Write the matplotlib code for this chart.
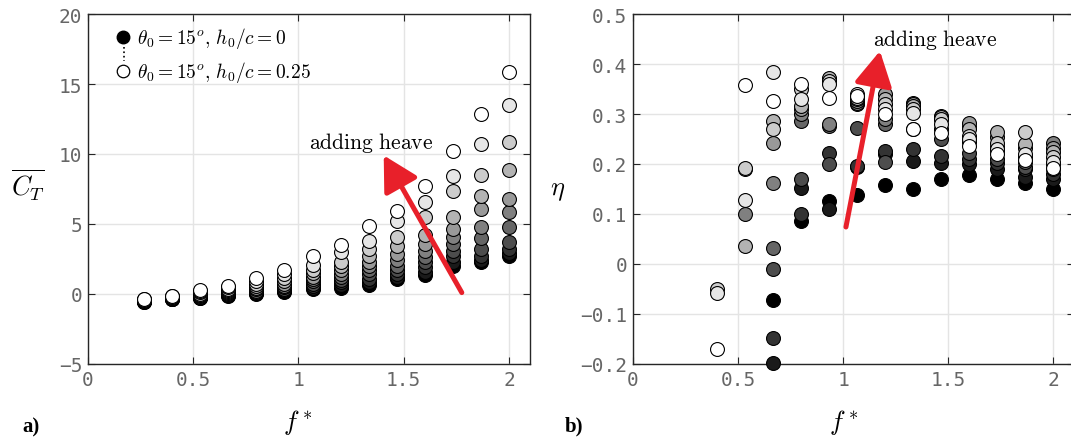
import numpy as np
import matplotlib.pyplot as plt

plt.rcParams['mathtext.fontset'] = 'cm'

# reduced frequency, one column of markers per value
f_star = [0.267, 0.4, 0.533, 0.667, 0.8, 0.933, 1.067, 1.2, 1.333, 1.467, 1.6, 1.733, 1.867, 2.0]
# heave amplitude h0/c, black (0) -> white (0.25)
h0c = [0.0, 0.025, 0.05, 0.075, 0.1, 0.125, 0.15, 0.175, 0.2, 0.225, 0.25]

# mean thrust coefficient, one row per f*, one column per h0/c
ct_mean = [
    [-0.55, -0.54, -0.53, -0.52, -0.50, -0.48, -0.46, -0.44, -0.42, -0.39, -0.36],
    [-0.36, -0.35, -0.34, -0.33, -0.31, -0.29, -0.27, -0.24, -0.21, -0.17, -0.12],
    [-0.29, -0.27, -0.24, -0.20, -0.16, -0.10, -0.04, 0.03, 0.11, 0.20, 0.31],
    [-0.12, -0.09, -0.05, 0.00, 0.06, 0.13, 0.20, 0.28, 0.37, 0.48, 0.60],
    [0.00, 0.04, 0.10, 0.17, 0.25, 0.34, 0.45, 0.57, 0.72, 0.90, 1.12],
    [0.12, 0.18, 0.26, 0.36, 0.47, 0.60, 0.75, 0.92, 1.12, 1.40, 1.74],
    [0.35, 0.45, 0.55, 0.70, 0.90, 1.05, 1.25, 1.50, 1.75, 2.10, 2.74],
    [0.45, 0.65, 0.85, 1.00, 1.20, 1.45, 1.70, 2.00, 2.30, 3.00, 3.52],
    [0.65, 0.85, 1.10, 1.40, 1.74, 2.00, 2.30, 2.69, 3.21, 3.81, 4.83],
    [1.05, 1.25, 1.45, 1.70, 2.00, 2.40, 2.86, 3.45, 4.05, 5.24, 5.90],
    [1.36, 1.60, 1.90, 2.26, 2.62, 3.10, 3.57, 4.21, 5.52, 6.55, 7.74],
    [1.98, 2.31, 2.69, 3.10, 3.57, 4.05, 4.64, 5.48, 7.38, 8.45, 10.24],
    [2.26, 2.45, 2.69, 3.21, 3.98, 4.76, 6.07, 7.02, 8.50, 10.71, 12.86],
    [2.71, 2.93, 3.21, 3.71, 4.79, 5.86, 6.79, 8.86, 10.86, 13.50, 15.86],
]

nan = np.nan
# propulsive efficiency (nan = below the plotted range)
eta = [
    [nan] * 11,
    [nan, nan, nan, nan, nan, nan, nan, nan, -0.050, -0.058, -0.170],
    [nan, nan, nan, nan, nan, 0.100, 0.190, 0.037, 0.193, 0.128, 0.359],
    [-0.072, -0.197, -0.147, -0.009, 0.033, 0.163, 0.243, 0.287, 0.270, 0.385, 0.327],
    [0.087, 0.153, 0.100, 0.170, 0.287, 0.300, 0.310, 0.317, 0.350, 0.330, 0.360],
    [0.127, 0.110, 0.223, 0.200, 0.277, 0.280, 0.370, 0.373, 0.367, 0.360, 0.333],
    [0.138, 0.195, 0.197, 0.273, 0.320, 0.322, 0.327, 0.330, 0.333, 0.340, 0.337],
    [0.158, 0.220, 0.227, 0.205, 0.280, 0.290, 0.340, 0.330, 0.320, 0.310, 0.300],
    [0.150, 0.207, 0.230, 0.270, 0.315, 0.323, 0.320, 0.317, 0.310, 0.303, 0.271],
    [0.170, 0.203, 0.217, 0.250, 0.270, 0.290, 0.297, 0.295, 0.290, 0.280, 0.263],
    [0.178, 0.200, 0.210, 0.223, 0.245, 0.275, 0.283, 0.270, 0.257, 0.250, 0.237],
    [0.171, 0.190, 0.203, 0.210, 0.225, 0.235, 0.255, 0.265, 0.243, 0.230, 0.220],
    [0.163, 0.175, 0.190, 0.195, 0.205, 0.215, 0.232, 0.240, 0.265, 0.220, 0.209],
    [0.150, 0.170, 0.180, 0.190, 0.200, 0.243, 0.232, 0.225, 0.215, 0.205, 0.193],
]

x_ticks = [0, 0.5, 1, 1.5, 2]
x_ticklabels = ['0', '0.5', '1', '1.5', '2']
ct_ticks = [-5, 0, 5, 10, 15, 20]
ct_ticklabels = ['\u22125', '0', '5', '10', '15', '20']
eta_ticks = [-0.2, -0.1, 0, 0.1, 0.2, 0.3, 0.4, 0.5]
eta_ticklabels = ['\u22120.2', '\u22120.1', '0', '0.1', '0.2', '0.3', '0.4', '0.5']

RED = '#e8202a'
W, H = 1071, 439

fig = plt.figure(figsize=(W / 100, H / 100), dpi=100)
ax1 = fig.add_axes([88 / W, 74 / H, 442 / W, 350 / H])
ax2 = fig.add_axes([633 / W, 74 / H, 441 / W, 350 / H])


def style_axes(ax, ylim, yticks, yticklabels):
    ax.set_xlim(0, 2.1)
    ax.set_ylim(*ylim)
    ax.set_xticks(x_ticks)
    ax.set_xticklabels(x_ticklabels)
    ax.set_yticks(yticks)
    ax.set_yticklabels(yticklabels)
    ax.grid(True, color='#e4e4e4', lw=1)
    ax.set_axisbelow(True)
    ax.tick_params(direction='in', length=5, width=0.8, color='0.15',
                   labelcolor='0.4', labelsize=14, pad=4, top=True, right=True)
    for lab in ax.get_xticklabels() + ax.get_yticklabels():
        lab.set_fontfamily('DejaVu Sans Mono')
    for sp in ax.spines.values():
        sp.set_color('0.15')
        sp.set_linewidth(1)


def draw_series(ax, values):
    values = np.array(values, dtype=float)
    for i, h in enumerate(h0c):
        g = h / h0c[-1]
        ax.scatter(f_star, values[:, i], s=100, color=(g, g, g),
                   edgecolors='k', linewidths=0.8, zorder=3, clip_on=False)


style_axes(ax1, (-5, 20), ct_ticks, ct_ticklabels)
style_axes(ax2, (-0.2, 0.5), eta_ticks, eta_ticklabels)
draw_series(ax1, ct_mean)
draw_series(ax2, eta)

# legend: black -> dots -> white
ax1.plot([0.08], [0.934], 'o', ms=9, mfc='k', mec='k', transform=ax1.transAxes, zorder=5)
ax1.plot([0.08], [0.837], 'o', ms=9, mfc='w', mec='k', mew=0.9, transform=ax1.transAxes, zorder=5)
ax1.plot([0.081, 0.081], [0.905, 0.865], ls=':', color='k', lw=1.2, transform=ax1.transAxes)
ax1.text(0.11, 0.934, r'$\theta_0 = 15^o,\, h_0/c = 0$', transform=ax1.transAxes,
         fontsize=14, va='center', ha='left')
ax1.text(0.11, 0.837, r'$\theta_0 = 15^o,\, h_0/c = 0.25$', transform=ax1.transAxes,
         fontsize=14, va='center', ha='left')

# arrows
arrow = dict(arrowstyle='-|>,head_length=1.0,head_width=0.55', color=RED, lw=3.6,
             mutation_scale=21, shrinkA=0, shrinkB=0)
ax1.annotate('', xy=(1.405, 9.9), xytext=(1.776, 0.1), arrowprops=arrow, zorder=6)
ax1.text(1.343, 10.86, r'$\mathrm{adding\ heave}$', fontsize=15.5, ha='center', va='center')
ax2.annotate('', xy=(1.176, 0.426), xytext=(1.014, 0.074), arrowprops=arrow, zorder=6)
ax2.text(1.438, 0.45, r'$\mathrm{adding\ heave}$', fontsize=15.5, ha='center', va='center')

# axis labels and panel tags
fig.text(28 / W, 1 - 185 / H, r'$\overline{C_T}$', fontsize=19, ha='center', va='center')
fig.text(558 / W, 1 - 190 / H, r'$\eta$', fontsize=19, ha='center', va='center')
fig.text(298 / W, 1 - 423 / H, r'$f^*$', fontsize=19, ha='center', va='center')
fig.text(844 / W, 1 - 423 / H, r'$f^*$', fontsize=19, ha='center', va='center')
fig.text(31 / W, 1 - 427 / H, 'a)', fontsize=15, fontweight='bold',
         fontfamily='Liberation Serif', ha='center', va='center')
fig.text(574 / W, 1 - 426 / H, 'b)', fontsize=15, fontweight='bold',
         fontfamily='Liberation Serif', ha='center', va='center')

fig.savefig('out.png', dpi=100)
